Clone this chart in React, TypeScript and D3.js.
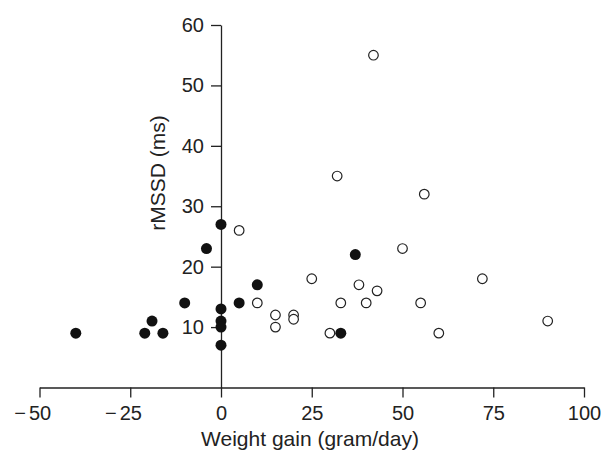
import React, { useEffect, useRef } from 'react';
import * as d3 from 'd3';

// Filled circles
const filledX = [-40, -21, -19, -16, -10, -4, 0, 0, 0, 0, 0, 5, 10, 37, 33];
const filledY = [9, 9, 11, 9, 14, 23, 27, 13, 11, 10, 7, 14, 17, 22, 9];

// Open circles
const openX = [5, 10, 15, 15, 20, 20, 25, 30, 33, 38, 40, 43, 50, 55, 60, 72, 90, 42, 32, 56];
const openY = [26, 14, 12, 10, 12, 11.3, 18, 9, 14, 17, 14, 16, 23, 14, 9, 18, 11, 55, 35, 32];

const xTicks = [-50, -25, 0, 25, 50, 75, 100];
const yTicks = [10, 20, 30, 40, 50, 60];

const xTitle = 'Weight gain (gram/day)';
const yTitle = 'rMSSD (ms)';

export default function App() {
  const ref = useRef<SVGSVGElement>(null);

  useEffect(() => {
    const width = 605;
    const height = 454;
    const font = '"Liberation Sans", Arial, sans-serif';
    const ink = '#222';
    const tickFont = 20;

    const svg = d3.select(ref.current);
    svg.selectAll('*').remove();

    const x = d3.scaleLinear().domain([-50, 100]).range([39.5, 584]);
    const y = d3.scaleLinear().domain([0, 60]).range([387.5, 25]);

    // x axis, digits centred on the tick with the minus sign hanging left
    const xAxis = svg.append('g')
      .attr('transform', `translate(0,${y(0)})`)
      .call(d3.axisBottom(x).tickValues(xTicks).tickSizeInner(10).tickSizeOuter(0).tickPadding(8)
        .tickFormat(d => String(Math.abs(+d))));
    xAxis.select('.domain').attr('stroke', ink).attr('stroke-width', 1.3);
    xAxis.selectAll('.tick line').attr('stroke', ink).attr('stroke-width', 1.3);
    xAxis.selectAll('.tick text').attr('fill', ink).attr('font-size', tickFont).attr('font-family', font);
    xAxis.selectAll('.tick')
      .filter((d: any) => d < 0)
      .append('text')
      .attr('x', -14)
      .attr('y', 18)
      .attr('dy', '0.71em')
      .attr('text-anchor', 'end')
      .attr('fill', ink)
      .attr('font-size', tickFont)
      .attr('font-family', font)
      .text('\u2212');

    // y axis sits at x = 0
    const yAxis = svg.append('g')
      .attr('transform', `translate(${x(0)},0)`)
      .call(d3.axisLeft(y).tickValues(yTicks).tickSizeInner(10).tickSizeOuter(0).tickPadding(7));
    yAxis.select('.domain').attr('stroke', ink).attr('stroke-width', 1.3);
    yAxis.selectAll('.tick line').attr('stroke', ink).attr('stroke-width', 1.3);
    yAxis.selectAll('.tick text').attr('fill', ink).attr('font-size', tickFont).attr('font-family', font);

    // points
    svg.append('g')
      .selectAll('circle')
      .data(openX.map((v, i) => [v, openY[i]]))
      .join('circle')
      .attr('cx', d => x(d[0]))
      .attr('cy', d => y(d[1]))
      .attr('r', 4.8)
      .attr('fill', 'white')
      .attr('stroke', ink)
      .attr('stroke-width', 1.2);

    svg.append('g')
      .selectAll('circle')
      .data(filledX.map((v, i) => [v, filledY[i]]))
      .join('circle')
      .attr('cx', d => x(d[0]))
      .attr('cy', d => y(d[1]))
      .attr('r', 5.5)
      .attr('fill', '#111');

    // titles
    svg.append('text')
      .attr('x', 310)
      .attr('y', 446)
      .attr('text-anchor', 'middle')
      .attr('font-size', 21)
      .attr('font-family', font)
      .attr('fill', ink)
      .text(xTitle);

    svg.append('text')
      .attr('transform', `translate(165,173) rotate(-90)`)
      .attr('text-anchor', 'middle')
      .attr('font-size', 21)
      .attr('font-family', font)
      .attr('fill', ink)
      .text(yTitle);

    svg.attr('width', width).attr('height', height);
  }, []);

  return (
    <svg ref={ref} width={605} height={454}
      style={{ position: 'absolute', left: 0, top: 0, background: 'white' }} />
  );
}
